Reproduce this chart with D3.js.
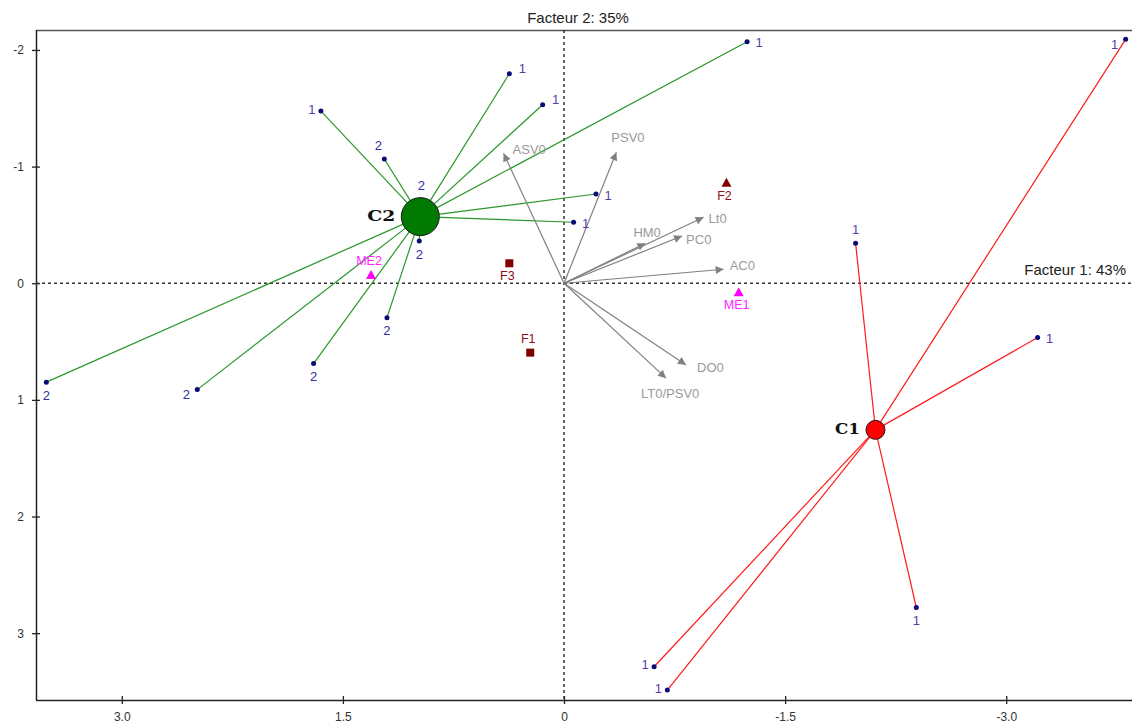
<!DOCTYPE html>
<html><head><meta charset="utf-8">
<script src="https://cdn.jsdelivr.net/npm/d3@7"></script>
<style>body{margin:0;background:#fff}svg{display:block}text{font-family:Arial,"Liberation Sans",sans-serif}</style>
</head><body><svg id="c" width="1132" height="726"></svg>
<script>
// ---- data ----
const xTicks = [3.0, 1.5, 0, -1.5, -3.0];
const yTicks = [-2, -1, 0, 1, 2, 3];
const axisTitle1 = "Facteur 1: 43%";
const axisTitle2 = "Facteur 2: 35%";

const clusterNames = ["C2", "C1"];
const clusterX = [0.975, -2.113];
const clusterY = [-0.571, 1.257];

const c2PointX = [1.649, 1.219, 0.371, 0.145, -1.242, -0.217, -0.065, 0.982, 3.512, 2.488, 1.699, 1.201, 0.968];
const c2PointY = [-1.476, -1.065, -1.796, -1.530, -2.070, -0.765, -0.523, -0.362, 0.848, 0.912, 0.689, 0.295, -0.714];
const c2PointLabel = ["1", "2", "1", "1", "1", "1", "1", "2", "2", "2", "2", "2", "2"];

const c1PointX = [-1.978, -3.810, -3.213, -2.390, -0.611, -0.701];
const c1PointY = [-0.343, -2.091, 0.466, 2.780, 3.288, 3.488];
const c1PointLabel = ["1", "1", "1", "1", "1", "1"];

const vectorNames = ["ASV0", "PSV0", "Lt0", "HM0", "PC0", "AC0", "DO0", "LT0/PSV0"];
const vectorX = [0.410, -0.355, -0.947, -0.552, -0.801, -1.083, -0.828, -0.692];
const vectorY = [-1.114, -1.123, -0.566, -0.343, -0.405, -0.120, 0.700, 0.814];

const suppNames = ["F1", "F2", "F3", "ME1", "ME2"];
const suppX = [0.229, -1.102, 0.371, -1.185, 1.309];
const suppY = [0.595, -0.862, -0.171, 0.077, -0.071];
const suppShape = ["square", "triangle", "square", "triangle", "triangle"];

// ---- layout (label placement) ----
const c2LabelPos = ["l", "al", "ar", "ar", "r", "r", "r", "b", "b", "bl", "b", "b", "a"];
const c1LabelPos = ["a", "bl", "r", "b", "l", "l"];
const vectorLabelOff = [[9, -4], [-5, -15], [5, 1], [-12, -11], [4, 4], [6, -4], [11, 3], [-25, 15]];
const suppLabelPos = ["a", "b", "b", "b", "a"];

(function () {
const svg = d3.select("#c");
const W = 1132;
const pLeft = 36, pTop = 30, pBottom = 700;
const x = d3.scaleLinear().domain([3.582, -3.86]).range([pLeft, 1133]);
const y = d3.scaleLinear().domain([-2.171, 3.573]).range([pTop, pBottom]);

const off = {
  r: [12, 1, "middle"], ar: [13, -5, "middle"], l: [-9, -2, "middle"],
  al: [-6, -14, "middle"], a: [0, -14, "middle"], b: [0, 13, "middle"],
  bl: [-11, 5, "middle"]
};

// frame
svg.append("line").attr("x1", pLeft).attr("x2", W).attr("y1", pTop + 0.5).attr("y2", pTop + 0.5)
  .attr("stroke", "#555").attr("stroke-width", 1.5);

// axes
const xAxis = d3.axisBottom(x).tickValues(xTicks).tickSize(4)
  .tickFormat(d => d === 0 ? "0" : d.toFixed(1));
const gx = svg.append("g").attr("transform", `translate(0,${pBottom})`).call(xAxis);
gx.select(".domain").attr("d", `M${pLeft},0.5H${W}`).attr("stroke", "#222").attr("stroke-width", 1.5);
gx.selectAll(".tick line").attr("y1", -4).attr("y2", 4).attr("stroke", "#222").attr("stroke-width", 1.3);
gx.selectAll(".tick text").attr("y", 12).attr("font-size", 12).attr("fill", "#333")
  .style("font-family", "Arial, 'Liberation Sans', sans-serif");

const yAxis = d3.axisLeft(y).tickValues(yTicks).tickSize(4).tickFormat(d => String(d));
const gy = svg.append("g").attr("transform", `translate(${pLeft},0)`).call(yAxis);
gy.select(".domain").attr("d", `M0.5,${pTop}V${pBottom}`).attr("stroke", "#222").attr("stroke-width", 1.5);
gy.selectAll(".tick line").attr("x1", -4).attr("x2", 4).attr("stroke", "#222").attr("stroke-width", 1.3);
gy.selectAll(".tick text").attr("x", -12).attr("font-size", 12).attr("fill", "#333")
  .style("font-family", "Arial, 'Liberation Sans', sans-serif");

// dashed zero lines
svg.append("line").attr("x1", x(0)).attr("x2", x(0)).attr("y1", pTop).attr("y2", pBottom)
  .attr("stroke", "#333").attr("stroke-width", 1.5).attr("stroke-dasharray", "3,3");
svg.append("line").attr("x1", pLeft).attr("x2", W).attr("y1", y(0)).attr("y2", y(0))
  .attr("stroke", "#333").attr("stroke-width", 1.5).attr("stroke-dasharray", "3,3");

// axis titles
svg.append("text").attr("x", x(0) + 14).attr("y", 23).attr("text-anchor", "middle")
  .attr("font-size", 15).attr("fill", "#222").text(axisTitle2);
svg.append("text").attr("x", 1126).attr("y", y(0) - 8).attr("text-anchor", "end")
  .attr("font-size", 15).attr("fill", "#222").text(axisTitle1);

// cluster lines
const c2 = c2PointX.map((v, i) => ({ x: v, y: c2PointY[i], label: c2PointLabel[i], pos: c2LabelPos[i] }));
const c1 = c1PointX.map((v, i) => ({ x: v, y: c1PointY[i], label: c1PointLabel[i], pos: c1LabelPos[i] }));

svg.append("g").selectAll("line").data(c2).join("line")
  .attr("x1", x(clusterX[0])).attr("y1", y(clusterY[0]))
  .attr("x2", d => x(d.x)).attr("y2", d => y(d.y))
  .attr("stroke", "#2a962a").attr("stroke-width", 1.2);
svg.append("g").selectAll("line").data(c1).join("line")
  .attr("x1", x(clusterX[1])).attr("y1", y(clusterY[1]))
  .attr("x2", d => x(d.x)).attr("y2", d => y(d.y))
  .attr("stroke", "#ff1a1a").attr("stroke-width", 1.2);

// vectors
const defs = svg.append("defs");
defs.append("marker").attr("id", "arr").attr("viewBox", "0 0 10 10").attr("refX", 10).attr("refY", 5)
  .attr("markerWidth", 10).attr("markerHeight", 8).attr("markerUnits", "userSpaceOnUse")
  .attr("orient", "auto")
  .append("path").attr("d", "M0,0L10,5L0,10Z").attr("fill", "#808080");
const vecs = vectorNames.map((n, i) => ({ n, x: vectorX[i], y: vectorY[i], o: vectorLabelOff[i] }));
svg.append("g").selectAll("line").data(vecs).join("line")
  .attr("x1", x(0)).attr("y1", y(0)).attr("x2", d => x(d.x)).attr("y2", d => y(d.y))
  .attr("stroke", "#808080").attr("stroke-width", 1.2).attr("marker-end", "url(#arr)");
svg.append("g").selectAll("text").data(vecs).join("text")
  .attr("x", d => x(d.x) + d.o[0]).attr("y", d => y(d.y) + d.o[1])
  .attr("dominant-baseline", "central").attr("font-size", 13).attr("fill", "#9a9a9a").text(d => d.n);

// supplementary points
const supp = suppNames.map((n, i) => ({ n, x: suppX[i], y: suppY[i], s: suppShape[i], pos: suppLabelPos[i] }));
const suppColor = d => d.n.startsWith("ME") ? "#ff00ff" : "#800000";
const suppLabelColor = d => d.n.startsWith("ME") ? "#ff22ff" : "#8b1010";
svg.append("g").selectAll("path").data(supp).join("path")
  .attr("transform", d => `translate(${x(d.x)},${y(d.y)})`)
  .attr("d", d => d.s === "square" ? "M-4,-4H4V4H-4Z" : "M0,-5L5,4H-5Z")
  .attr("fill", suppColor);
svg.append("g").selectAll("text").data(supp).join("text")
  .attr("x", d => x(d.x) - 2).attr("y", d => y(d.y) + (d.pos === "a" ? -14 : 13))
  .attr("text-anchor", "middle").attr("dominant-baseline", "central")
  .attr("font-size", 12.5).attr("fill", suppLabelColor).text(d => d.n);

// observation points (under the cluster circles)
const allPts = c2.concat(c1);
svg.append("g").selectAll("circle").data(allPts).join("circle")
  .attr("cx", d => x(d.x)).attr("cy", d => y(d.y)).attr("r", 2.5).attr("fill", "#0a0a78");

// cluster circles
const radii = [19, 9.5];
const fills = ["#007a00", "#ff0000"];
clusterNames.forEach((n, i) => {
  svg.append("circle").attr("cx", x(clusterX[i])).attr("cy", y(clusterY[i])).attr("r", radii[i])
    .attr("fill", fills[i]).attr("stroke", "#1a1a1a").attr("stroke-width", 1);
  svg.append("text").attr("x", x(clusterX[i]) - radii[i] - 6).attr("y", y(clusterY[i]) - 1)
    .attr("text-anchor", "end").attr("dominant-baseline", "central")
    .attr("font-size", 15).attr("font-weight", "bold").attr("fill", "#111")
    .style("font-family", "'DejaVu Serif', 'Liberation Serif', serif")
    .attr("textLength", i === 0 ? 28 : 25).attr("lengthAdjust", "spacingAndGlyphs").text(n);
});

// point labels
svg.append("g").selectAll("text").data(allPts).join("text")
  .attr("x", d => x(d.x) + off[d.pos][0]).attr("y", d => y(d.y) + off[d.pos][1])
  .attr("text-anchor", d => off[d.pos][2]).attr("dominant-baseline", "central")
  .attr("font-size", 13).attr("fill", d => d.label === "1" ? "#5a3aa8" : "#2e2ea0").text(d => d.label);
})();
</script></body></html>
